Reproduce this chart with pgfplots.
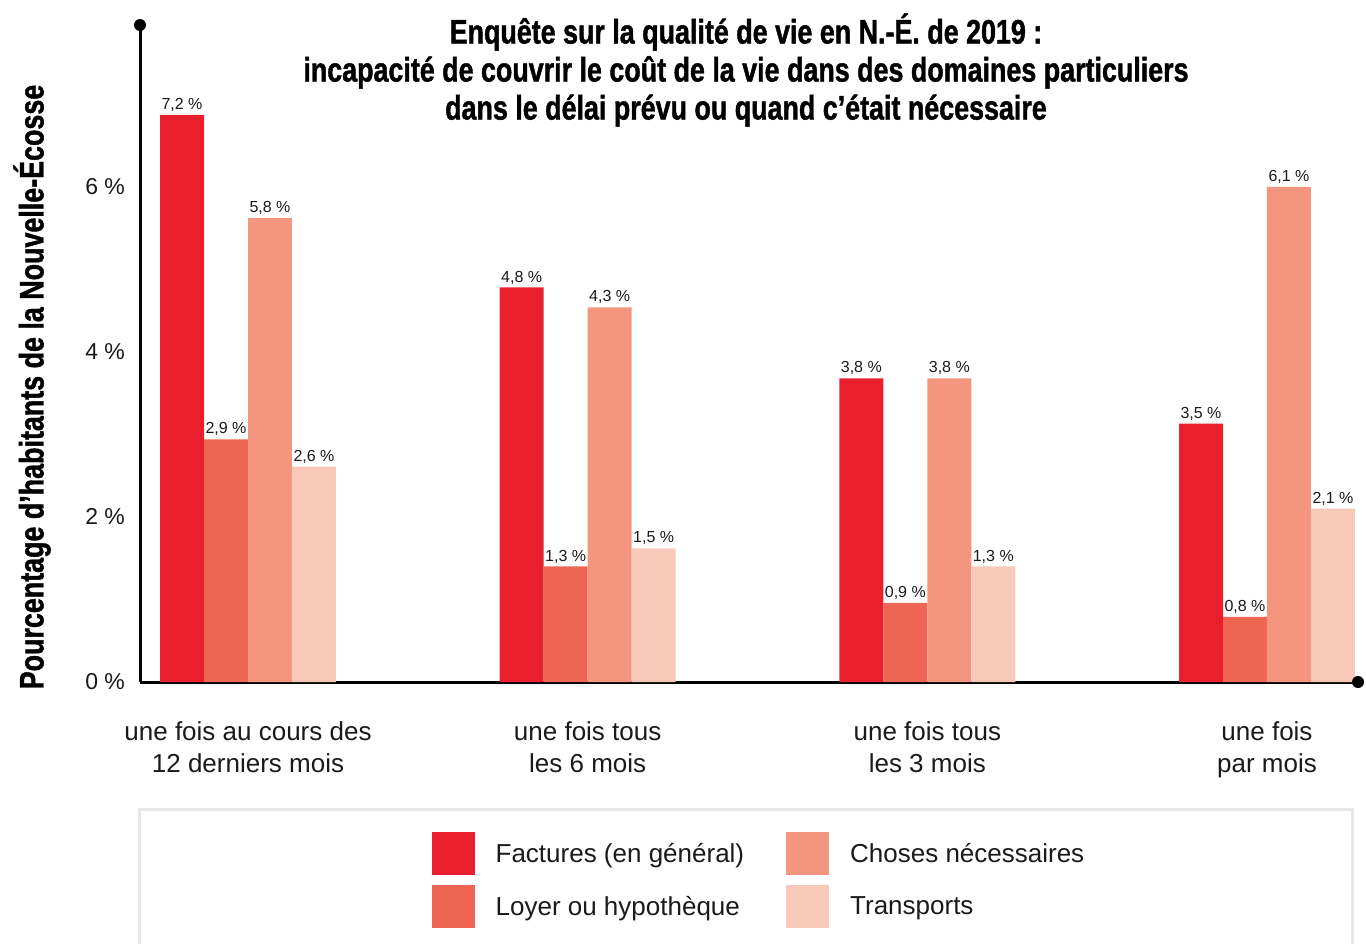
\documentclass[border=0pt]{standalone}
\usepackage{pgfplots}
\pgfplotsset{compat=1.18}
\usepackage{pgfplotstable}
\usepackage{fontspec}
\setmainfont{Liberation Sans}
\newfontfamily\condbold[FakeStretch=0.79, FakeBold=1.2]{Liberation Sans Bold}
\definecolor{cA}{HTML}{EA1F2E}
\definecolor{cB}{HTML}{EF6553}
\definecolor{cC}{HTML}{F4967F}
\definecolor{cD}{HTML}{F8C8B8}
\definecolor{txt}{HTML}{1A1A1A}
\definecolor{boxgray}{HTML}{E6E7E7}

\pgfplotsset{sq legend/.style={legend image code/.code={\fill[##1] (0pt,-10.75pt) rectangle (21.5pt,10.75pt);}}}

% y = bar height as drawn, lab = printed label
\pgfplotstableread{
x y lab
0 6.87 7.2
1 4.78 4.8
2 3.68 3.8
3 3.13 3.5
}\factures
\pgfplotstableread{
x y lab
0 2.94 2.9
1 1.40 1.3
2 0.96 0.9
3 0.79 0.8
}\loyer
\pgfplotstableread{
x y lab
0 5.62 5.8
1 4.54 4.3
2 3.68 3.8
3 6.00 6.1
}\choses
\pgfplotstableread{
x y lab
0 2.61 2.6
1 1.62 1.5
2 1.40 1.3
3 2.10 2.1
}\transports

\begin{document}
\begin{tikzpicture}
\begin{scope}[x=0.5pt,y=-0.5pt]
\path[use as bounding box] (0,0) rectangle (1366,943);
\draw[boxgray, line width=1.5pt] (139,809) rectangle (1352,990);
\node[align=center, font=\condbold\fontsize{17}{19}\selectfont, text=black] at (746,70)
  {Enquête sur la qualité de vie en N.-É. de 2019 :\\incapacité de couvrir le coût de la vie dans des domaines particuliers\\dans le délai prévu ou quand c’était nécessaire};
\node[rotate=90, font=\condbold\fontsize{17}{19}\selectfont, text=black] at (32,387)
  {Pourcentage d’habitants de la Nouvelle-Écosse};
\end{scope}
\begin{axis}[
  at={(70pt,-341pt)}, anchor=south west,
  scale only axis, width=609pt, height=328.5pt,
  xmin=-0.318, xmax=3.268, ymin=0, ymax=7.96,
  ybar=0pt, bar width=0.1295,
  clip=false,
  axis lines=left,
  axis line style={line width=1.5pt, -, black},
  major tick length=0pt,
  xtick={0,1,2,3},
  xticklabels={{une fois au cours des\\12 derniers mois},{une fois tous\\les 6 mois},{une fois tous\\les 3 mois},{une fois\\par mois}},
  xticklabel style={align=center, font=\fontsize{13}{16}\selectfont, text=txt, yshift=-16.5pt},
  ytick={0,2,4,6},
  yticklabels={0 \%,2 \%,4 \%,6 \%},
  yticklabel style={font=\fontsize{11.5}{13}\selectfont, text=txt, xshift=-4pt},
  point meta=explicit,
  /pgf/number format/assume math mode=true,
  nodes near coords={\pgfmathprintnumber[fixed,fixed zerofill,precision=1,use comma]{\pgfplotspointmeta}~\%},
  every node near coord/.append style={font=\fontsize{8}{9}\selectfont, text=txt, inner sep=1.5pt},
  legend columns=2, transpose legend,
  legend cell align=left,
  legend style={at={(axis description cs:0.509,-0.302)}, anchor=center, draw=none, fill=none,
    font=\fontsize{13}{15}\selectfont, text=txt, row sep=5pt,
    /tikz/every even column/.append style={column sep=19pt},
    /tikz/every odd column/.append style={column sep=8.5pt}},
  after end axis/.code={
    \fill (rel axis cs:0,1) circle[radius=3pt];
    \fill (rel axis cs:1,0) circle[radius=3pt];
  },
]
\addplot[fill=cA, draw=none, sq legend] table[x=x,y=y,meta=lab] {\factures};
\addlegendentry{Factures (en général)}
\addplot[fill=cB, draw=none, sq legend] table[x=x,y=y,meta=lab] {\loyer};
\addlegendentry{Loyer ou hypothèque}
\addplot[fill=cC, draw=none, sq legend] table[x=x,y=y,meta=lab] {\choses};
\addlegendentry{Choses nécessaires}
\addplot[fill=cD, draw=none, sq legend] table[x=x,y=y,meta=lab] {\transports};
\addlegendentry{Transports}
\end{axis}
\end{tikzpicture}
\end{document}
